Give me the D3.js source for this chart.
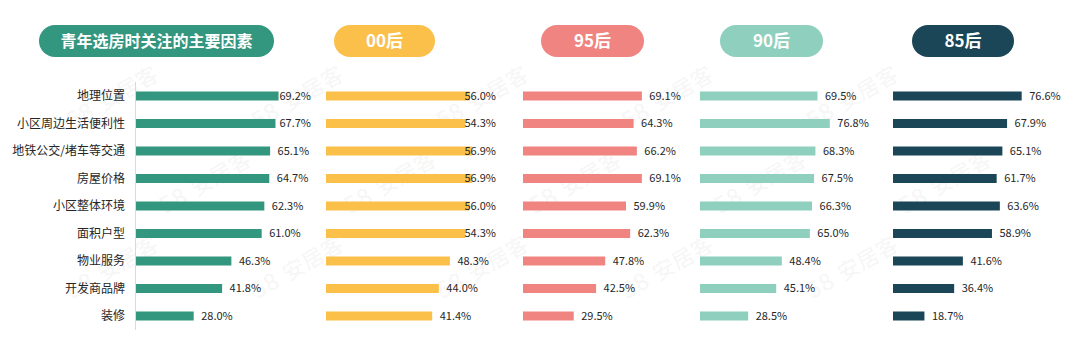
<!DOCTYPE html>
<html>
<head>
<meta charset="utf-8">
<script src="https://cdn.jsdelivr.net/npm/d3@7"></script>
<style>
  body { margin: 0; background: #fff; }
  svg { display: block; font-family: "Noto Sans CJK SC", "Noto Sans", sans-serif; }
</style>
</head>
<body>
<svg id="chart" width="1080" height="352"></svg>
<script>
// Data
const categories = ["地理位置", "小区周边生活便利性", "地铁公交/堵车等交通", "房屋价格", "小区整体环境", "面积户型", "物业服务", "开发商品牌", "装修"];
const seriesNames = ["青年选房时关注的主要因素", "00后", "95后", "90后", "85后"];
const allValues = [69.2, 67.7, 65.1, 64.7, 62.3, 61.0, 46.3, 41.8, 28.0];
const gen00Values = [56.0, 54.3, 56.9, 56.9, 56.0, 54.3, 48.3, 44.0, 41.4];
const gen95Values = [69.1, 64.3, 66.2, 69.1, 59.9, 62.3, 47.8, 42.5, 29.5];
const gen90Values = [69.5, 76.8, 68.3, 67.5, 66.3, 65.0, 48.4, 45.1, 28.5];
const gen85Values = [76.6, 67.9, 65.1, 61.7, 63.6, 58.9, 41.6, 36.4, 18.7];

const svg = d3.select("#chart");

// watermark "58 | 安居客", only where it fits inside the picture
const wm = svg.append("g").attr("fill", "#000").attr("fill-opacity", 0.035);
for (let r = 0; r < 5; r++) {
  for (let c = 0; c < 8; c++) {
    const x = c * 185 + (r % 2) * 92 - 20;
    const y = r * 85 + 45;
    const g = wm.append("g").attr("transform", `translate(${x},${y}) rotate(-30)`);
    g.append("text").attr("font-size", 24).attr("font-weight", "bold").text("58");
    g.append("text").attr("x", 36).attr("font-size", 22).attr("font-weight", "bold").text("安居客");
    const b = g.node().getBoundingClientRect();
    if (b.left < 1 || b.top < 1 || b.right > 1079 || b.bottom > 351) g.remove();
  }
}

// columns: data, colour, bar start, px per %, label right limit, header pill
const columns = [
  { values: allValues, color: "#33967e", x0: 136, k: 2.06, maxX: 311, pill: [39, 274] },
  { values: gen00Values, color: "#fbc04a", x0: 326, k: 2.565, maxX: 496, pill: [334, 435] },
  { values: gen95Values, color: "#ef8480", x0: 523, k: 1.72, maxX: 700, pill: [541, 644] },
  { values: gen90Values, color: "#8ecfbd", x0: 700, k: 1.69, maxX: 890, pill: [720, 823] },
  { values: gen85Values, color: "#1b4657", x0: 893, k: 1.68, maxX: 1078, pill: [912, 1014] }
];

const y = d3.scalePoint()
  .domain(categories)
  .range([82.25, 329.75])
  .padding(0.5);

const barH = 9;

// header pills
columns.forEach((col, i) => {
  const [px0, px1] = col.pill;
  svg.append("rect")
    .attr("x", px0).attr("y", 25)
    .attr("width", px1 - px0).attr("height", 32)
    .attr("rx", 16)
    .attr("fill", col.color);
  svg.append("text")
    .attr("x", (px0 + px1) / 2).attr("y", 41)
    .attr("dy", "0.36em")
    .attr("text-anchor", "middle")
    .attr("fill", "#fff")
    .attr("font-size", i === 0 ? 16 : 17)
    .attr("font-weight", "bold")
    .text(seriesNames[i]);
});

// category axis
svg.append("line")
  .attr("x1", 135.5).attr("x2", 135.5)
  .attr("y1", 82).attr("y2", 330)
  .attr("stroke", "#d9d9d9");

svg.append("g")
  .selectAll("text")
  .data(categories)
  .join("text")
  .attr("x", 125)
  .attr("y", d => y(d))
  .attr("dy", "0.36em")
  .attr("text-anchor", "end")
  .attr("font-size", 12)
  .attr("fill", "#262626")
  .text(d => d);

// bars and labels
columns.forEach(col => {
  const x = d3.scaleLinear().domain([0, 100]).range([col.x0, col.x0 + 100 * col.k]);
  const g = svg.append("g");
  const rows = categories.map((c, i) => ({ c, v: col.values[i] }));

  g.selectAll("rect")
    .data(rows)
    .join("rect")
    .attr("x", x(0))
    .attr("y", d => y(d.c) - barH / 2)
    .attr("width", d => x(d.v) - x(0))
    .attr("height", barH)
    .attr("fill", col.color);

  g.selectAll("text")
    .data(rows)
    .join("text")
    .attr("y", d => y(d.c))
    .attr("dy", "0.36em")
    .attr("font-size", 11)
    .attr("fill", "#262626")
    .text(d => d.v.toFixed(1) + "%")
    .attr("x", function(d) {
      const w = this.getComputedTextLength();
      return Math.min(x(d.v) + 7.5, col.maxX - w);
    });
});
</script>
</body>
</html>
